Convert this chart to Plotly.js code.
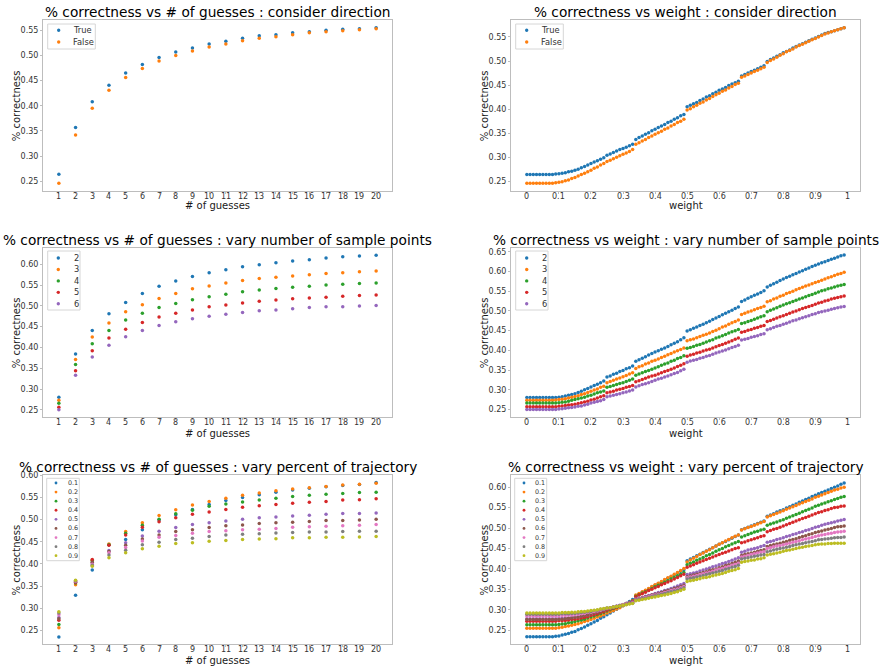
<!DOCTYPE html>
<html><head><meta charset="utf-8">
<script src="https://cdn.plot.ly/plotly-3.0.1.min.js"></script>
<style>html,body{margin:0;padding:0;background:#fff}#chart{width:883px;height:669px}</style>
</head><body><div id="chart"></div>
<script>
// ---------- DATA ----------
const guesses = [1,2,3,4,5,6,7,8,9,10,11,12,13,14,15,16,17,18,19,20];
const weights = [0,0.01,0.02,0.03,0.04,0.05,0.06,0.07,0.08,0.09,0.1,0.11,0.12,0.13,0.14,0.15,0.16,0.17,0.18,0.19,
0.2,0.21,0.22,0.23,0.24,0.25,0.26,0.27,0.28,0.29,0.3,0.31,0.32,0.33,0.34,0.35,0.36,0.37,0.38,0.39,
0.4,0.41,0.42,0.43,0.44,0.45,0.46,0.47,0.48,0.49,0.5,0.51,0.52,0.53,0.54,0.55,0.56,0.57,0.58,0.59,
0.6,0.61,0.62,0.63,0.64,0.65,0.66,0.67,0.68,0.69,0.7,0.71,0.72,0.73,0.74,0.75,0.76,0.77,0.78,0.79,
0.8,0.81,0.82,0.83,0.84,0.85,0.86,0.87,0.88,0.89,0.9,0.91,0.92,0.93,0.94,0.95,0.96,0.97,0.98,0.99];
const weightTicks = [0,0.1,0.2,0.3,0.4,0.5,0.6,0.7,0.8,0.9,1];
const weightTickText = ['0','0.1','0.2','0.3','0.4','0.5','0.6','0.7','0.8','0.9','1'];

const dirNames = ['True','False'];
const nNames = ['2','3','4','5','6'];
const pNames = ['0.1','0.2','0.3','0.4','0.5','0.6','0.7','0.8','0.9'];
const colors = ['#1f77b4','#ff7f0e','#2ca02c','#d62728','#9467bd','#8c564b','#e377c2','#7f7f7f','#bcbd22'];

// % correctness vs # of guesses : consider direction
const gDirTrue  = [0.264,0.357,0.408,0.441,0.465,0.482,0.496,0.507,0.515,0.523,0.528,0.534,0.539,0.541,0.545,0.547,0.550,0.552,0.553,0.555];
const gDirFalse = [0.246,0.342,0.395,0.431,0.456,0.474,0.489,0.500,0.509,0.517,0.523,0.529,0.534,0.537,0.541,0.545,0.547,0.549,0.551,0.553];

// % correctness vs # of guesses : vary number of sample points
const gN2 = [0.280,0.384,0.441,0.481,0.508,0.530,0.547,0.560,0.571,0.580,0.587,0.594,0.599,0.604,0.608,0.611,0.615,0.618,0.620,0.622];
const gN3 = [0.273,0.371,0.425,0.459,0.486,0.503,0.518,0.530,0.541,0.548,0.555,0.561,0.566,0.569,0.572,0.575,0.578,0.580,0.582,0.584];
const gN4 = [0.266,0.359,0.409,0.441,0.466,0.482,0.496,0.506,0.515,0.522,0.528,0.534,0.538,0.542,0.545,0.547,0.550,0.552,0.554,0.555];
const gN5 = [0.256,0.344,0.392,0.423,0.444,0.460,0.473,0.482,0.490,0.498,0.502,0.507,0.511,0.514,0.517,0.519,0.521,0.523,0.525,0.526];
const gN6 = [0.250,0.333,0.377,0.405,0.426,0.441,0.453,0.462,0.469,0.475,0.480,0.484,0.488,0.490,0.493,0.496,0.498,0.498,0.500,0.501];

// % correctness vs # of guesses : vary percent of trajectory
const gP1 = [0.235,0.329,0.386,0.443,0.455,0.477,0.499,0.511,0.523,0.534,0.543,0.550,0.556,0.562,0.567,0.571,0.574,0.577,0.579,0.584];
const gP2 = [0.256,0.353,0.408,0.445,0.473,0.493,0.509,0.522,0.533,0.541,0.548,0.555,0.560,0.565,0.569,0.572,0.575,0.578,0.580,0.582];
const gP3 = [0.263,0.357,0.407,0.443,0.469,0.487,0.501,0.513,0.521,0.530,0.535,0.540,0.544,0.548,0.552,0.555,0.557,0.559,0.561,0.562];
const gP4 = [0.273,0.358,0.410,0.442,0.465,0.483,0.495,0.504,0.512,0.517,0.523,0.528,0.531,0.534,0.537,0.539,0.541,0.544,0.545,0.547];
const gP5 = [0.279,0.360,0.402,0.430,0.448,0.463,0.474,0.482,0.489,0.493,0.497,0.501,0.504,0.506,0.508,0.510,0.512,0.514,0.514,0.515];
const gP6 = [0.276,0.359,0.404,0.428,0.442,0.456,0.465,0.473,0.477,0.482,0.486,0.488,0.491,0.493,0.494,0.496,0.498,0.498,0.499,0.501];
const gP7 = [0.285,0.361,0.399,0.425,0.437,0.452,0.460,0.464,0.469,0.473,0.475,0.477,0.478,0.480,0.483,0.484,0.485,0.486,0.487,0.489];
const gP8 = [0.289,0.362,0.397,0.420,0.431,0.443,0.449,0.455,0.458,0.462,0.465,0.467,0.468,0.470,0.471,0.472,0.472,0.473,0.474,0.474];
const gP9 = [0.292,0.363,0.395,0.414,0.425,0.434,0.440,0.446,0.448,0.451,0.453,0.455,0.456,0.457,0.459,0.459,0.460,0.460,0.461,0.462];

// % correctness vs weight : consider direction
const wDirTrue = [0.264,0.264,0.264,0.264,0.264,0.264,0.264,0.264,0.264,0.265,
0.266,0.267,0.268,0.270,0.271,0.273,0.275,0.278,0.281,0.284,
0.287,0.290,0.293,0.296,0.299,0.304,0.307,0.310,0.313,0.316,
0.318,0.321,0.324,0.327,0.337,0.341,0.344,0.348,0.351,0.355,
0.358,0.362,0.365,0.368,0.372,0.375,0.379,0.382,0.386,0.389,
0.405,0.408,0.411,0.414,0.418,0.421,0.425,0.428,0.432,0.435,
0.439,0.442,0.445,0.449,0.452,0.455,0.458,0.469,0.472,0.475,
0.478,0.481,0.484,0.487,0.490,0.499,0.503,0.506,0.510,0.513,
0.517,0.520,0.523,0.527,0.530,0.533,0.536,0.539,0.542,0.545,
0.548,0.551,0.554,0.557,0.559,0.561,0.563,0.565,0.567,0.569];
const wDirFalse = [0.246,0.246,0.246,0.246,0.246,0.246,0.246,0.246,0.246,0.247,
0.248,0.249,0.251,0.253,0.256,0.258,0.261,0.264,0.267,0.270,
0.273,0.277,0.280,0.284,0.287,0.291,0.294,0.297,0.300,0.303,
0.306,0.309,0.312,0.316,0.327,0.330,0.334,0.337,0.341,0.344,
0.348,0.351,0.354,0.358,0.361,0.365,0.368,0.372,0.375,0.379,
0.398,0.401,0.405,0.408,0.412,0.415,0.419,0.422,0.426,0.430,
0.433,0.437,0.440,0.444,0.447,0.451,0.454,0.466,0.469,0.472,
0.475,0.478,0.481,0.484,0.487,0.497,0.501,0.504,0.508,0.512,
0.515,0.519,0.522,0.525,0.529,0.532,0.535,0.538,0.541,0.544,
0.547,0.550,0.553,0.556,0.558,0.561,0.563,0.565,0.567,0.569];

// % correctness vs weight : vary number of sample points
const wN2 = [0.280,0.280,0.280,0.280,0.280,0.280,0.280,0.280,0.280,0.280,
0.281,0.282,0.284,0.286,0.288,0.290,0.293,0.296,0.300,0.303,
0.307,0.311,0.314,0.318,0.322,0.332,0.335,0.339,0.342,0.346,
0.349,0.353,0.356,0.360,0.372,0.376,0.380,0.384,0.388,0.392,
0.396,0.399,0.403,0.406,0.410,0.414,0.418,0.422,0.427,0.432,
0.449,0.452,0.456,0.459,0.463,0.466,0.470,0.474,0.478,0.482,
0.486,0.490,0.494,0.498,0.502,0.506,0.510,0.524,0.528,0.532,
0.536,0.540,0.543,0.547,0.551,0.561,0.565,0.569,0.573,0.577,
0.581,0.585,0.588,0.592,0.595,0.599,0.602,0.606,0.609,0.613,
0.616,0.619,0.622,0.625,0.628,0.631,0.634,0.637,0.640,0.642];
const wN3 = [0.273,0.273,0.273,0.273,0.273,0.273,0.273,0.273,0.273,0.274,
0.275,0.276,0.277,0.279,0.281,0.283,0.285,0.288,0.290,0.293,
0.296,0.299,0.302,0.306,0.309,0.318,0.321,0.324,0.327,0.330,
0.333,0.336,0.340,0.343,0.354,0.358,0.361,0.365,0.368,0.372,
0.375,0.378,0.382,0.385,0.389,0.392,0.396,0.399,0.402,0.406,
0.424,0.427,0.429,0.432,0.435,0.438,0.441,0.444,0.448,0.451,
0.455,0.459,0.462,0.466,0.470,0.473,0.477,0.491,0.494,0.497,
0.500,0.503,0.506,0.509,0.512,0.523,0.526,0.530,0.533,0.537,
0.540,0.544,0.547,0.550,0.554,0.557,0.560,0.563,0.566,0.569,
0.572,0.575,0.578,0.581,0.584,0.587,0.590,0.593,0.595,0.598];
const wN4 = [0.266,0.266,0.266,0.266,0.266,0.266,0.266,0.266,0.266,0.266,
0.267,0.268,0.269,0.271,0.273,0.275,0.277,0.279,0.281,0.284,
0.286,0.289,0.292,0.294,0.297,0.306,0.308,0.311,0.313,0.316,
0.318,0.321,0.324,0.327,0.337,0.340,0.343,0.346,0.349,0.352,
0.355,0.358,0.362,0.365,0.368,0.372,0.375,0.379,0.382,0.386,
0.405,0.407,0.410,0.413,0.415,0.418,0.421,0.424,0.427,0.431,
0.434,0.437,0.440,0.444,0.447,0.450,0.453,0.468,0.470,0.473,
0.476,0.479,0.482,0.485,0.488,0.498,0.502,0.505,0.508,0.512,
0.515,0.518,0.521,0.524,0.527,0.530,0.533,0.536,0.539,0.542,
0.545,0.548,0.551,0.553,0.556,0.558,0.561,0.563,0.565,0.567];
const wN5 = [0.257,0.257,0.257,0.257,0.257,0.257,0.257,0.257,0.257,0.257,
0.258,0.259,0.260,0.261,0.262,0.263,0.265,0.267,0.269,0.271,
0.274,0.276,0.279,0.282,0.285,0.292,0.294,0.296,0.299,0.301,
0.303,0.306,0.308,0.311,0.320,0.323,0.326,0.329,0.332,0.335,
0.337,0.340,0.343,0.346,0.349,0.352,0.355,0.359,0.362,0.366,
0.385,0.388,0.390,0.393,0.395,0.398,0.401,0.403,0.406,0.409,
0.412,0.415,0.418,0.421,0.424,0.428,0.431,0.446,0.448,0.451,
0.453,0.456,0.458,0.461,0.463,0.473,0.476,0.479,0.482,0.485,
0.488,0.491,0.494,0.497,0.500,0.503,0.506,0.509,0.511,0.514,
0.517,0.520,0.522,0.525,0.527,0.530,0.532,0.534,0.536,0.538];
const wN6 = [0.250,0.250,0.250,0.250,0.250,0.250,0.250,0.250,0.250,0.250,
0.251,0.252,0.253,0.254,0.255,0.256,0.258,0.259,0.261,0.263,
0.266,0.268,0.270,0.272,0.275,0.282,0.284,0.286,0.288,0.290,
0.292,0.294,0.297,0.299,0.307,0.310,0.313,0.315,0.318,0.321,
0.324,0.327,0.329,0.332,0.335,0.338,0.341,0.344,0.348,0.352,
0.370,0.373,0.375,0.377,0.380,0.382,0.385,0.387,0.390,0.393,
0.396,0.398,0.401,0.404,0.407,0.410,0.413,0.426,0.428,0.430,
0.433,0.435,0.437,0.440,0.442,0.452,0.455,0.458,0.461,0.463,
0.466,0.469,0.472,0.475,0.477,0.480,0.483,0.485,0.488,0.491,
0.493,0.496,0.498,0.500,0.502,0.504,0.506,0.508,0.510,0.511];

// % correctness vs weight : vary percent of trajectory
const wP1 = [0.234,0.234,0.234,0.234,0.234,0.234,0.234,0.234,0.234,0.235,
0.236,0.238,0.240,0.242,0.245,0.247,0.251,0.254,0.258,0.262,
0.266,0.270,0.274,0.279,0.283,0.288,0.292,0.297,0.301,0.306,
0.310,0.315,0.320,0.325,0.334,0.338,0.343,0.347,0.351,0.356,
0.360,0.364,0.368,0.373,0.377,0.381,0.385,0.390,0.394,0.398,
0.420,0.424,0.428,0.432,0.436,0.440,0.444,0.448,0.452,0.456,
0.460,0.464,0.467,0.471,0.475,0.479,0.483,0.496,0.499,0.502,
0.505,0.508,0.511,0.514,0.517,0.529,0.532,0.535,0.539,0.542,
0.545,0.549,0.552,0.556,0.559,0.563,0.566,0.570,0.573,0.577,
0.580,0.584,0.587,0.590,0.593,0.597,0.600,0.603,0.607,0.610];
const wP2 = [0.255,0.255,0.255,0.255,0.255,0.255,0.255,0.255,0.255,0.255,
0.256,0.257,0.259,0.260,0.262,0.264,0.266,0.268,0.271,0.273,
0.276,0.279,0.282,0.285,0.288,0.292,0.295,0.298,0.302,0.305,
0.310,0.314,0.318,0.322,0.336,0.340,0.344,0.348,0.352,0.357,
0.361,0.365,0.369,0.374,0.378,0.382,0.387,0.391,0.396,0.401,
0.417,0.422,0.426,0.430,0.435,0.439,0.443,0.447,0.452,0.456,
0.460,0.464,0.468,0.472,0.476,0.480,0.483,0.495,0.498,0.501,
0.504,0.507,0.510,0.513,0.516,0.527,0.530,0.533,0.536,0.539,
0.542,0.546,0.549,0.552,0.555,0.559,0.562,0.565,0.568,0.571,
0.575,0.578,0.581,0.584,0.587,0.590,0.593,0.595,0.598,0.600];
const wP3 = [0.263,0.263,0.263,0.263,0.263,0.263,0.263,0.263,0.263,0.263,
0.264,0.265,0.266,0.268,0.269,0.271,0.273,0.275,0.277,0.280,
0.282,0.285,0.288,0.290,0.293,0.297,0.300,0.303,0.306,0.309,
0.312,0.315,0.318,0.321,0.333,0.337,0.341,0.344,0.348,0.352,
0.356,0.360,0.363,0.367,0.371,0.375,0.379,0.383,0.387,0.391,
0.410,0.414,0.417,0.421,0.424,0.428,0.432,0.435,0.439,0.443,
0.447,0.450,0.454,0.457,0.461,0.464,0.467,0.478,0.481,0.484,
0.487,0.490,0.492,0.495,0.497,0.507,0.510,0.512,0.515,0.518,
0.520,0.524,0.527,0.530,0.533,0.536,0.540,0.543,0.546,0.549,
0.553,0.556,0.559,0.561,0.564,0.567,0.570,0.572,0.575,0.577];
const wP4 = [0.272,0.272,0.272,0.272,0.272,0.272,0.272,0.272,0.272,0.272,
0.273,0.273,0.274,0.275,0.276,0.277,0.278,0.280,0.281,0.283,
0.286,0.288,0.290,0.293,0.295,0.299,0.302,0.304,0.307,0.310,
0.312,0.315,0.318,0.321,0.332,0.336,0.339,0.343,0.347,0.350,
0.354,0.357,0.361,0.364,0.368,0.371,0.375,0.379,0.383,0.387,
0.404,0.407,0.410,0.414,0.417,0.420,0.423,0.426,0.429,0.432,
0.435,0.438,0.441,0.444,0.447,0.450,0.452,0.464,0.466,0.469,
0.471,0.474,0.476,0.479,0.481,0.491,0.494,0.497,0.499,0.502,
0.505,0.508,0.511,0.514,0.517,0.520,0.523,0.526,0.529,0.532,
0.535,0.538,0.540,0.543,0.545,0.548,0.550,0.551,0.553,0.554];
const wP5 = [0.278,0.278,0.278,0.278,0.278,0.278,0.278,0.278,0.278,0.278,
0.279,0.279,0.280,0.280,0.281,0.282,0.283,0.285,0.286,0.288,
0.291,0.293,0.295,0.297,0.300,0.303,0.305,0.307,0.309,0.311,
0.313,0.315,0.317,0.319,0.326,0.328,0.330,0.333,0.335,0.337,
0.340,0.342,0.344,0.347,0.349,0.352,0.355,0.358,0.361,0.364,
0.386,0.388,0.390,0.392,0.395,0.397,0.400,0.402,0.405,0.407,
0.410,0.413,0.415,0.418,0.421,0.424,0.427,0.441,0.443,0.446,
0.448,0.450,0.452,0.455,0.457,0.465,0.467,0.469,0.472,0.474,
0.476,0.479,0.481,0.484,0.486,0.489,0.491,0.494,0.496,0.499,
0.502,0.504,0.507,0.509,0.511,0.513,0.515,0.517,0.519,0.521];
const wP6 = [0.276,0.276,0.276,0.276,0.276,0.276,0.276,0.276,0.276,0.276,
0.277,0.277,0.278,0.279,0.280,0.281,0.282,0.284,0.286,0.288,
0.290,0.292,0.294,0.296,0.299,0.302,0.304,0.306,0.308,0.310,
0.312,0.314,0.316,0.318,0.325,0.327,0.329,0.331,0.333,0.336,
0.338,0.340,0.342,0.345,0.347,0.349,0.352,0.354,0.357,0.360,
0.381,0.383,0.385,0.387,0.389,0.391,0.393,0.396,0.398,0.400,
0.403,0.405,0.408,0.410,0.413,0.416,0.419,0.433,0.435,0.437,
0.439,0.441,0.443,0.445,0.447,0.455,0.457,0.459,0.461,0.463,
0.465,0.467,0.470,0.472,0.474,0.477,0.479,0.481,0.484,0.486,
0.489,0.491,0.493,0.495,0.497,0.499,0.501,0.503,0.504,0.505];
const wP7 = [0.285,0.285,0.285,0.285,0.285,0.285,0.285,0.285,0.285,0.285,
0.285,0.286,0.286,0.287,0.287,0.288,0.289,0.290,0.291,0.293,
0.294,0.296,0.297,0.299,0.301,0.303,0.305,0.307,0.308,0.310,
0.312,0.314,0.315,0.317,0.324,0.326,0.328,0.330,0.332,0.334,
0.336,0.338,0.340,0.342,0.344,0.347,0.349,0.351,0.354,0.357,
0.378,0.380,0.382,0.384,0.386,0.388,0.390,0.392,0.394,0.397,
0.399,0.401,0.404,0.406,0.409,0.411,0.414,0.429,0.431,0.433,
0.435,0.437,0.439,0.441,0.442,0.450,0.452,0.454,0.456,0.457,
0.459,0.461,0.463,0.465,0.467,0.469,0.471,0.473,0.475,0.477,
0.479,0.481,0.483,0.484,0.486,0.487,0.489,0.490,0.491,0.492];
const wP8 = [0.289,0.289,0.289,0.289,0.289,0.289,0.289,0.289,0.289,0.289,
0.289,0.290,0.290,0.290,0.291,0.291,0.292,0.293,0.294,0.295,
0.296,0.298,0.299,0.301,0.302,0.304,0.305,0.307,0.308,0.310,
0.311,0.313,0.315,0.316,0.323,0.325,0.327,0.328,0.330,0.332,
0.334,0.336,0.338,0.340,0.342,0.344,0.346,0.348,0.351,0.354,
0.375,0.377,0.378,0.380,0.382,0.384,0.386,0.388,0.390,0.392,
0.394,0.396,0.399,0.401,0.404,0.406,0.409,0.424,0.426,0.427,
0.429,0.431,0.432,0.434,0.435,0.442,0.444,0.446,0.448,0.450,
0.451,0.453,0.455,0.457,0.459,0.461,0.462,0.464,0.466,0.467,
0.469,0.471,0.472,0.473,0.474,0.475,0.476,0.477,0.477,0.478];
const wP9 = [0.292,0.292,0.292,0.292,0.292,0.292,0.292,0.292,0.292,0.292,
0.292,0.293,0.293,0.293,0.294,0.294,0.295,0.296,0.296,0.297,
0.298,0.299,0.300,0.302,0.303,0.304,0.305,0.307,0.308,0.309,
0.311,0.312,0.314,0.315,0.322,0.323,0.325,0.326,0.328,0.330,
0.331,0.333,0.335,0.336,0.338,0.340,0.342,0.344,0.347,0.350,
0.369,0.371,0.372,0.374,0.376,0.378,0.379,0.381,0.383,0.385,
0.387,0.389,0.391,0.394,0.396,0.398,0.401,0.416,0.418,0.419,
0.421,0.422,0.424,0.425,0.427,0.434,0.436,0.437,0.439,0.441,
0.443,0.445,0.446,0.448,0.450,0.452,0.453,0.455,0.456,0.457,
0.459,0.460,0.461,0.461,0.462,0.462,0.463,0.463,0.463,0.463];

const panelTitles = [
  '% correctness vs # of guesses : consider direction',
  '% correctness vs weight : consider direction',
  '% correctness vs # of guesses : vary number of sample points',
  '% correctness vs weight : vary number of sample points',
  '% correctness vs # of guesses : vary percent of trajectory',
  '% correctness vs weight : vary percent of trajectory'
];
const xLabels = ['# of guesses','weight','# of guesses','weight','# of guesses','weight'];
const yLabel = '% correctness';

// ---------- LAYOUT ----------
const FW = 883, FH = 669;
const px = v => v / FW, py = v => 1 - v / FH;
const FONT = 'DejaVu Sans, Liberation Sans, sans-serif';

const panels = [
  {L:43, R:392, T:20,    B:191,   xr:[0.05,20.95],      yr:[0.2305,0.5705], yt:[0.25,0.55], kind:'g', names:dirNames, series:[gDirTrue,gDirFalse],
   tTitle:12, tX:205.5, yLx:16.7,
   leg:{x0:47.7,y0:24,x1:95.3,y1:49, mx:58.7, tx:72.3, r0:30.3, dr:11.7, fs:8.3, ms:1.7}},
  {L:511, R:860, T:20,   B:191,   xr:[-0.0495,1.0395],  yr:[0.2299,0.5852], yt:[0.25,0.55], kind:'w', names:dirNames, series:[wDirTrue,wDirFalse],
   tTitle:12, tX:205.5, yLx:484.7,
   leg:{x0:515.7,y0:24,x1:563.3,y1:49, mx:526.7, tx:540, r0:30.3, dr:11.7, fs:8.3, ms:1.7}},
  {L:43, R:392, T:247.7, B:417.3, xr:[0.05,20.95],      yr:[0.2319,0.6400], yt:[0.25,0.60], kind:'g', names:nNames, series:[gN2,gN3,gN4,gN5,gN6],
   tTitle:239.7, tX:433, yLx:16.7,
   leg:{x0:47.7,y0:251,x1:80,y1:310, mx:58.3, tx:72.7, r0:258, dr:11.45, fs:8.3, ms:1.7}},
  {L:511, R:860, T:247.7, B:417.3, xr:[-0.0495,1.0395], yr:[0.2300,0.6605], yt:[0.25,0.65], kind:'w', names:nNames, series:[wN2,wN3,wN4,wN5,wN6],
   tTitle:239.7, tX:433, yLx:484.7,
   leg:{x0:515.7,y0:251,x1:548,y1:310, mx:526.7, tx:540.7, r0:258, dr:11.45, fs:8.3, ms:1.7}},
  {L:43, R:392, T:475.3, B:644.2, xr:[0.05,20.95],      yr:[0.2188,0.6000], yt:[0.25,0.60], kind:'g', names:pNames, series:[gP1,gP2,gP3,gP4,gP5,gP6,gP7,gP8,gP9],
   tTitle:467, tX:660.5, yLx:16.7,
   leg:{x0:46.7,y0:478.3,x1:79.3,y1:560.7, mx:56, tx:66.7, r0:483, dr:9.09, fs:6.4, ms:1.4}},
  {L:511, R:860, T:475.3, B:644.2, xr:[-0.0495,1.0395], yr:[0.2157,0.6290], yt:[0.25,0.60], kind:'w', names:pNames, series:[wP1,wP2,wP3,wP4,wP5,wP6,wP7,wP8,wP9],
   tTitle:467, tX:660.5, yLx:484.7,
   leg:{x0:514.7,y0:478.3,x1:546.7,y1:560.7, mx:524, tx:534.3, r0:483, dr:9.09, fs:6.4, ms:1.4}}
];

const traces = [];
const layout = {
  width: FW, height: FH,
  margin: {l:0, r:0, t:0, b:0, pad:0},
  paper_bgcolor: '#ffffff', plot_bgcolor: '#ffffff',
  showlegend: false,
  font: {family: FONT, color: '#262626'},
  annotations: [], shapes: []
};

panels.forEach((p, i) => {
  const n = i + 1;
  const xk = n === 1 ? 'xaxis' : 'xaxis' + n;
  const yk = n === 1 ? 'yaxis' : 'yaxis' + n;
  const xs = n === 1 ? 'x' : 'x' + n;
  const ys = n === 1 ? 'y' : 'y' + n;
  const xvals = p.kind === 'g' ? guesses : weights;
  const xTickVals = p.kind === 'g' ? guesses : weightTicks;
  const xTickText = p.kind === 'g' ? guesses.map(String) : weightTickText;

  p.series.forEach((s, j) => {
    traces.push({
      type: 'scatter', mode: 'markers', name: p.names[j],
      x: xvals, y: s, xaxis: xs, yaxis: ys,
      marker: {size: 3.5, color: colors[j], line: {width: 0}},
      hoverinfo: 'x+y+name'
    });
  });

  const yticks = [];
  for (let v = p.yt[0]; v <= p.yt[1] + 1e-9; v += 0.05) yticks.push(+v.toFixed(2));

  const axCommon = {
    showgrid: false, zeroline: false,
    showline: true, mirror: true, linecolor: '#bdbdbd', linewidth: 1,
    ticks: 'outside', ticklen: 2, tickwidth: 1, tickcolor: '#bdbdbd',
    tickfont: {family: FONT, size: 8, color: '#333333'},
    fixedrange: true
  };
  layout[xk] = Object.assign({}, axCommon, {
    domain: [px(p.L), px(p.R)], range: p.xr, anchor: ys,
    tickmode: 'array', tickvals: xTickVals, ticktext: xTickText,
    showticklabels: false
  });
  layout[yk] = Object.assign({}, axCommon, {
    domain: [py(p.B), py(p.T)], range: p.yr, anchor: xs,
    tickmode: 'array', tickvals: yticks, ticktext: yticks.map(v => v.toFixed(2))
  });

  // x tick labels (placed on the axis scale, closer to the frame as in the reference)
  xTickVals.forEach((v, k) => {
    layout.annotations.push({
      xref: xs, yref:'paper', x: v, y: py(p.B + 5.3), xanchor:'center', yanchor:'middle',
      text: xTickText[k], showarrow:false, borderpad:0,
      font:{family:FONT, size:8, color:'#333333'}
    });
  });

  const cx = (p.L + p.R) / 2, cy = (p.T + p.B) / 2;
  layout.annotations.push({
    xref:'paper', yref:'paper', x: px(cx), y: py(p.tTitle), xanchor:'center', yanchor:'middle',
    text: panelTitles[i], showarrow:false, font:{family:FONT, size:13.7, color:'#000000'}
  });
  layout.annotations.push({
    xref:'paper', yref:'paper', x: px(cx), y: py(p.tX), xanchor:'center', yanchor:'middle',
    text: xLabels[i], showarrow:false, borderpad:0, font:{family:FONT, size:10, color:'#1a1a1a'}
  });
  layout.annotations.push({
    xref:'paper', yref:'paper', x: px(p.yLx), y: py(cy), xanchor:'center', yanchor:'middle',
    text: yLabel, textangle:-90, showarrow:false, font:{family:FONT, size:10, color:'#1a1a1a'}
  });

  const g = p.leg;
  layout.shapes.push({
    type:'rect', xref:'paper', yref:'paper', layer:'above',
    x0: px(g.x0), x1: px(g.x1), y0: py(g.y1), y1: py(g.y0),
    fillcolor:'rgba(255,255,255,0.85)', line:{color:'#d6d6d6', width:1}
  });
  p.names.forEach((nm, j) => {
    const ry = g.r0 + j * g.dr;
    layout.shapes.push({
      type:'circle', xref:'paper', yref:'paper', layer:'above',
      x0: px(g.mx - g.ms), x1: px(g.mx + g.ms), y0: py(ry + g.ms), y1: py(ry - g.ms),
      fillcolor: colors[j], line:{width:0}
    });
    layout.annotations.push({
      xref:'paper', yref:'paper', x: px(g.tx), y: py(ry), xanchor:'left', yanchor:'middle',
      text: nm, showarrow:false, borderpad:0, font:{family:FONT, size:g.fs, color:'#333333'}
    });
  });
});

Plotly.newPlot('chart', traces, layout, {staticPlot: true, displayModeBar: false});
</script>
</body></html>
